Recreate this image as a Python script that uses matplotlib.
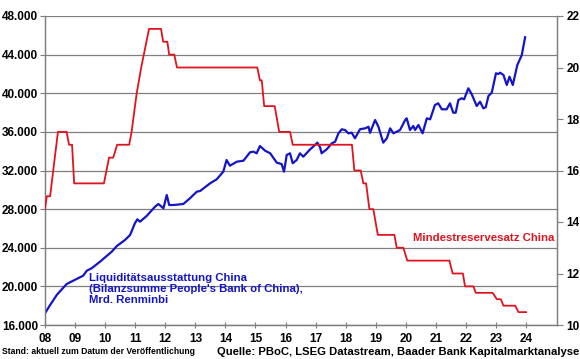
import matplotlib
matplotlib.use("Agg")
import matplotlib.pyplot as plt
from matplotlib.ticker import FuncFormatter

plt.rcParams['font.family'] = ['Liberation Sans', 'DejaVu Sans']
plt.rcParams['font.weight'] = 'bold'

# ---- data ----
bs_dates = [2008.00, 2008.17, 2008.39, 2008.72, 2009.05, 2009.27, 2009.39, 2009.55, 2009.83,
            2010.00, 2010.22, 2010.39, 2010.66, 2010.83, 2010.99, 2011.07, 2011.16, 2011.38,
            2011.66, 2011.77, 2011.94, 2012.05, 2012.13, 2012.27, 2012.60, 2012.82, 2013.05,
            2013.16, 2013.49, 2013.71, 2013.93, 2014.04, 2014.15, 2014.38, 2014.60, 2014.82,
            2014.93, 2015.04, 2015.15, 2015.32, 2015.49, 2015.71, 2015.87, 2015.95, 2016.04,
            2016.15, 2016.24, 2016.37, 2016.48, 2016.59, 2016.82, 2016.98, 2017.06, 2017.15,
            2017.20, 2017.37, 2017.54, 2017.65, 2017.76, 2017.87, 2017.98, 2018.09, 2018.20,
            2018.31, 2018.48, 2018.65, 2018.76, 2018.81, 2018.98, 2019.09, 2019.25, 2019.37,
            2019.48, 2019.59, 2019.81, 2019.98, 2020.03, 2020.14, 2020.25, 2020.31, 2020.42,
            2020.56, 2020.70, 2020.81, 2020.97, 2021.08, 2021.20, 2021.36, 2021.47, 2021.58,
            2021.66, 2021.75, 2021.86, 2021.94, 2022.08, 2022.19, 2022.36, 2022.47, 2022.58,
            2022.66, 2022.75, 2022.86, 2023.00, 2023.08, 2023.14, 2023.25, 2023.36, 2023.45,
            2023.56, 2023.71, 2023.86, 2023.91, 2023.97]
bs_values = [17212, 18071, 19107, 20246, 20764, 21106, 21624, 21872, 22556,
             23011, 23591, 24181, 24803, 25320, 26532, 26946, 26698, 27288,
             28252, 28531, 28086, 29463, 28427, 28427, 28531, 29118, 29808,
             29877, 30671, 31085, 31878, 33087, 32497, 32911, 33015, 33885,
             33954, 33781, 34537, 34054, 33781, 32808, 32673, 31878, 33605,
             33781, 32746, 33087, 33781, 33430, 34196, 34641, 34883, 34399,
             33781, 34196, 34814, 34983, 35849, 36264, 36195, 35849, 35916,
             35335, 36280, 36367, 36533, 35900, 37230, 36533, 34883, 35335,
             36367, 35849, 36195, 37230, 37402, 36195, 36608, 36195, 36712,
             35849, 37402, 37299, 38783, 38959, 38338, 38338, 38959, 37985,
             37985, 39301, 39477, 39373, 40513, 39923, 38680, 39125, 38442,
             38546, 39716, 40058, 42067, 41995, 42128, 41889, 40854, 41714,
             40854, 42925, 43961, 44822, 45795]

rrr_dates = [2008.00, 2008.06, 2008.17, 2008.43, 2008.72, 2008.80, 2008.90, 2008.97,
             2009.96, 2010.13, 2010.27, 2010.40, 2010.80, 2010.88, 2011.05, 2011.20,
             2011.46, 2011.86, 2011.93, 2012.07, 2012.13, 2012.30, 2012.39,
             2015.06, 2015.15, 2015.21, 2015.29, 2015.64, 2015.79, 2016.15, 2016.24,
             2018.21, 2018.29, 2018.50, 2018.59, 2018.68, 2018.79, 2018.92, 2019.07,
             2019.62, 2019.70, 2019.92, 2020.05, 2021.45, 2021.56, 2021.90, 2021.97,
             2022.25, 2022.33, 2022.89, 2023.03, 2023.16, 2023.25, 2023.64, 2023.75,
             2024.00]
rrr_values = [14.5, 15.0, 15.0, 17.5, 17.5, 17.0, 17.0, 15.5,
              15.5, 16.5, 16.5, 17.0, 17.0, 17.5, 19.0, 20.0,
              21.5, 21.5, 21.0, 21.0, 20.5, 20.5, 20.0,
              20.0, 19.5, 19.5, 18.5, 18.5, 17.5, 17.5, 17.0,
              17.0, 16.0, 16.0, 15.5, 15.5, 14.5, 14.5, 13.5,
              13.5, 13.0, 13.0, 12.5, 12.5, 12.0, 12.0, 11.5,
              11.5, 11.25, 11.25, 11.0, 11.0, 10.75, 10.75, 10.5,
              10.5]

year_ticks = list(range(2008, 2025))
year_labels = [f"{y % 100:02d}" for y in year_ticks]

left_ticks = [16000, 20000, 24000, 28000, 32000, 36000, 40000, 44000, 48000]
right_ticks = [10, 12, 14, 16, 18, 20, 22]

blue = '#1414C8'
red = '#E0141E'
grid_c = '#7F7F7F'

fig = plt.figure(figsize=(5.8, 3.59), dpi=100)
ax = fig.add_axes([45/580, 1-325/359, (557-45)/580, (325-16)/359])
ax2 = ax.twinx()

ax.plot(bs_dates, bs_values, color=blue, lw=1.6, zorder=3)
ax2.plot(rrr_dates, rrr_values, color=red, lw=1.3, zorder=3)

ax.set_xlim(2008, 2025.03)
ax.set_ylim(16000, 48000)
ax2.set_ylim(10, 22)

ax.set_yticks(left_ticks)
ax.yaxis.set_major_formatter(FuncFormatter(lambda v, p: f"{int(v):,}".replace(",", ".")))
ax2.set_yticks(right_ticks)
ax.set_xticks(year_ticks)
ax.set_xticklabels(year_labels)

ax.grid(axis='y', color=grid_c, lw=0.9)
ax.set_axisbelow(True)
for a in (ax, ax2):
    for s in a.spines.values():
        s.set_color(grid_c)
        s.set_linewidth(0.9)
    a.spines['top'].set_visible(False)

ax.tick_params(axis='y', direction='out', length=3.5, color=grid_c, labelsize=8.5, pad=1.5)
ax2.tick_params(axis='y', direction='out', length=4, color=grid_c, labelsize=8.5, pad=3)
ax.tick_params(axis='x', direction='inout', length=4, color=grid_c, labelsize=8.5, pad=4)
for lab in ax.get_xticklabels() + ax.get_yticklabels() + ax2.get_yticklabels():
    lab.set_fontweight('bold')

ax.annotate("Liquiditätsausstattung China\n(Bilanzsumme People's Bank of China),\nMrd. Renminbi",
            xy=(89/580, 1-273/359), xycoords='figure fraction', ha='left', va='top',
            color=blue, fontsize=8.2, fontweight='bold', linespacing=1.1)
ax.annotate("Mindestreservesatz China", xy=(413/580, 1-238/359), xycoords='figure fraction',
            ha='left', va='center', color=red, fontsize=8.2, fontweight='bold')

fig.text(2/580, 1-352/359, "Stand: aktuell zum Datum der Veröffentlichung", fontsize=6.2,
         fontweight='bold', ha='left', va='center')
fig.text(579/580, 1-352/359, "Quelle: PBoC, LSEG Datastream, Baader Bank Kapitalmarktanalyse",
         fontsize=8.1, fontweight='bold', ha='right', va='center')

fig.savefig("out.png", dpi=100)
